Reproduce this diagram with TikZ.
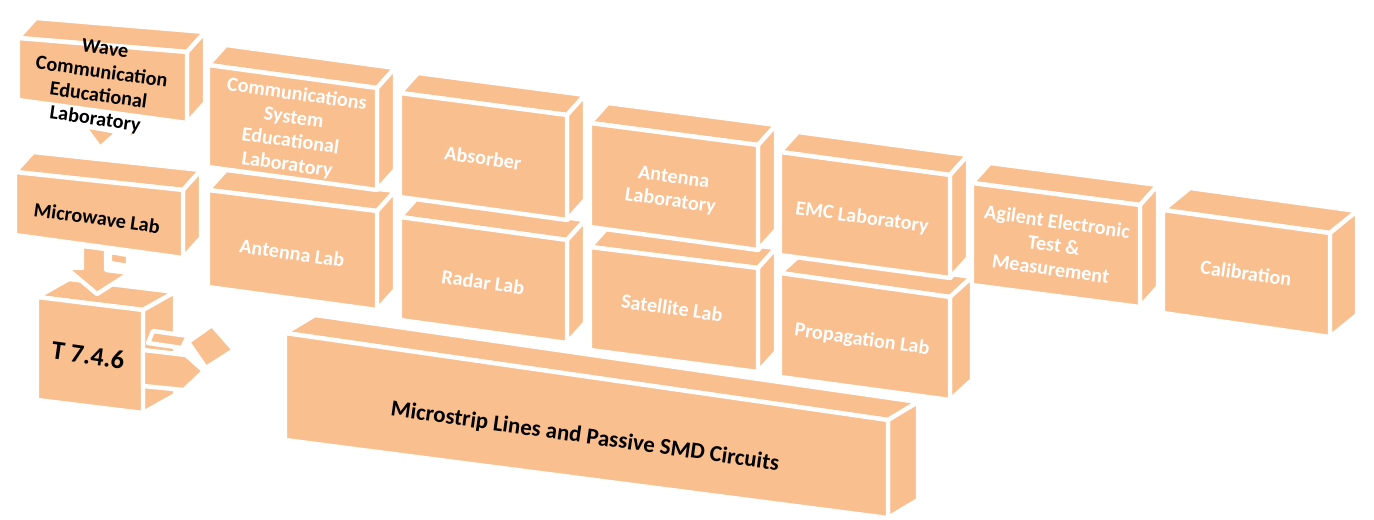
\documentclass[tikz,border=0pt]{standalone}
\usepackage{fontspec}
\setmainfont{Carlito}
\definecolor{peach}{RGB}{249,191,143}
\newcommand{\labbox}[8]{%
\filldraw[face] (#1,#3) -- (#2,#4) -- ++(#7,#8) -- ++({#1-#2},{#3-#4}) -- cycle;
\filldraw[face] (#2,#4) -- ++(#7,#8) -- ++(0,{#6-#4}) -- (#2,#6) -- cycle;
\filldraw[face] (#1,#3) -- (#2,#4) -- (#2,#6) -- (#1,#5) -- cycle;}

\begin{document}
\begin{tikzpicture}[x=0.02cm,y=-0.02cm,
  face/.style={fill=peach,draw=white,line width=2.5pt,line join=round},
  btxt/.style={font=\fontsize{11.5}{13.5}\selectfont\bfseries,text=black,align=center,rotate=-8},
  wtxt/.style={btxt,text=white}]
\useasboundingbox (0,0) rectangle (1374,520);
\labbox{285}{888}{333}{420}{440}{518}{30}{-18}
\labbox{208}{377}{190}{211}{287}{310}{18}{-20}
\labbox{400}{567}{217}{240}{320}{343}{18}{-20}
\labbox{590}{758}{247}{268}{350}{372}{18}{-20}
\labbox{780}{950}{273}{297}{377}{400}{22}{-20}
\labbox{208}{377}{65}{88}{167}{190}{18}{-20}
\labbox{400}{567}{93}{115}{197}{220}{18}{-20}
\labbox{590}{758}{123}{145}{227}{250}{18}{-20}
\labbox{780}{950}{152}{175}{255}{278}{18}{-20}
\labbox{972}{1140}{183}{205}{285}{307}{18}{-20}
\labbox{1163}{1330}{210}{233}{313}{337}{27}{-22}
\labbox{37}{143}{297}{310}{400}{413}{32}{-18}
\labbox{15}{183}{172}{190}{235}{258}{18}{-20}
\labbox{18}{187}{38}{52}{100}{123}{18}{-20}
\filldraw[face] (84,126) -- (118,132) -- (100,148) -- cycle;
\filldraw[face] (124,131) -- (137,133) -- (131,139) -- cycle;
\filldraw[face] (82,246) -- (106,249) -- (106,270) -- (130,273) -- (97,294) -- (66,268) -- (82,268) -- cycle;
\filldraw[face] (110,252) -- (128,255) -- (128,266) -- (110,263) -- cycle;
\filldraw[face] (153,331) -- (188,336) -- (182,348) -- (148,343) -- cycle;
\filldraw[face] (188,342) -- (212,325) -- (234,350) -- (206,368) -- cycle;
\filldraw[face] (143,350) -- (186,355) -- (204,371) -- (184,390) -- (143,386) -- cycle;
\filldraw[face] (204,375) -- (220,378) -- (214,382) -- cycle;
\node[btxt] (wave) at (100,85) {Wave\\Communication\\Educational\\Laboratory};
\node[btxt] (microwave) at (97,218) {Microwave Lab};
\node[btxt,font=\fontsize{15}{17}\selectfont\bfseries] (t746) at (88,355) {T 7.4.6};
\node[wtxt] (commsys) at (292,130) {Communications\\System\\Educational\\Laboratory};
\node[wtxt] (antennalab) at (292,253) {Antenna Lab};
\node[wtxt] (absorber) at (483,158) {Absorber};
\node[wtxt] (radar) at (483,282) {Radar Lab};
\node[wtxt] (antennalaboratory) at (672,190) {Antenna\\Laboratory};
\node[wtxt] (satellite) at (672,308) {Satellite Lab};
\node[wtxt] (emc) at (862,218) {EMC Laboratory};
\node[wtxt] (propagation) at (862,340) {Propagation Lab};
\node[wtxt] (agilent) at (1054,245) {Agilent Electronic\\Test \&\\Measurement};
\node[wtxt] (calibration) at (1246,273) {Calibration};
\node[btxt,font=\fontsize{13}{15}\selectfont\bfseries] (microstrip) at (585,437) {Microstrip Lines and Passive SMD Circuits};
\end{tikzpicture}
\end{document}
